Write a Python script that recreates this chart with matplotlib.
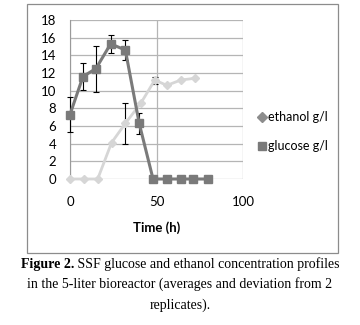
import matplotlib
matplotlib.use("Agg")
import matplotlib.pyplot as plt
from matplotlib.lines import Line2D
from matplotlib.patches import Rectangle

# data
glucose_t = [0, 7.5, 15, 23.5, 32, 40, 48, 56, 64, 71, 80]
glucose = [7.3, 11.6, 12.5, 15.3, 14.6, 6.3, 0, 0, 0, 0, 0]
glucose_err = [2.0, 1.5, 2.6, 1.0, 1.1, 1.2, 0, 0, 0, 0, 0]

ethanol_t = [0, 8, 16, 24, 32, 41, 49, 56, 64, 72]
ethanol = [0, 0, 0, 4.1, 6.3, 8.6, 11.2, 10.6, 11.2, 11.4]
ethanol_err = [0, 0, 0, 0, 2.3, 0, 0.4, 0, 0, 0]

yticks = list(range(0, 19, 2))
xticks = [0, 50, 100]

caption_bold = "Figure 2."
caption_rest = " SSF glucose and ethanol concentration profiles"
caption_2 = "in the 5-liter bioreactor (averages and deviation from 2"
caption_3 = "replicates)."

c_gluc = "#7a7a7a"
c_eth = "#d6d6d6"

plt.rcParams["font.family"] = ["Lato", "DejaVu Sans"]

fig = plt.figure(figsize=(3.6, 3.25), dpi=100)
fig.patches.append(Rectangle((27 / 360, 1 - 253 / 325), 311 / 360, 249 / 325,
                             transform=fig.transFigure, fill=False,
                             edgecolor="#8c8c8c", linewidth=0.9))

ax = fig.add_axes([70 / 360, 1 - 179 / 325, 173 / 360, 159 / 325])
ax.set_xlim(0, 100)
ax.set_ylim(0, 18)
ax.set_yticks(yticks)
ax.set_xticks(xticks)
ax.grid(True, color="#b5b5b5", linewidth=0.9)
ax.set_axisbelow(True)
for s in ["top", "right", "bottom"]:
    ax.spines[s].set_visible(False)
ax.spines["left"].set_color("#9a9a9a")
ax.tick_params(length=0, labelsize=9.5)
ax.tick_params(axis="x", pad=12)
ax.tick_params(axis="y", pad=10)

ax.errorbar(ethanol_t, ethanol, yerr=ethanol_err, color=c_eth, ecolor="black",
            elinewidth=0.8, capsize=2.5, capthick=0.8, linewidth=2,
            marker="D", markersize=4.5, clip_on=False, zorder=3)
ax.errorbar(glucose_t, glucose, yerr=glucose_err, color=c_gluc, ecolor="black",
            elinewidth=0.8, capsize=2.5, capthick=0.8, linewidth=2.2,
            marker="s", markersize=5.5, clip_on=False, zorder=4)

ax.set_xlabel("Time (h)", fontsize=9.5, fontweight="bold", labelpad=10)

handles = [Line2D([], [], linestyle="none", marker="D", markersize=5, color="#8c8c8c"),
           Line2D([], [], linestyle="none", marker="s", markersize=6, color=c_gluc)]
fig.legend(handles, ["ethanol g/l", "glucose g/l"], loc="upper left",
           bbox_to_anchor=(246 / 360, 1 - 100 / 325), frameon=False,
           fontsize=9, handletextpad=0.1, handlelength=0.8, labelspacing=1.35)

# caption
serif = "Liberation Serif"
fig.canvas.draw()
r = fig.canvas.get_renderer()
tb = fig.text(0, 0, caption_bold, fontsize=10, family=serif, fontweight="bold")
tr = fig.text(0, 0, caption_rest, fontsize=10, family=serif)
wb = tb.get_window_extent(r).width
wr = tr.get_window_extent(r).width
x0 = (360 - wb - wr) / 2 / 360
y1 = 1 - 268 / 325
tb.set_position((x0, y1))
tr.set_position((x0 + wb / 360, y1))
fig.text(0.5, 1 - 288 / 325, caption_2, fontsize=10, family=serif, ha="center")
fig.text(0.5, 1 - 309 / 325, caption_3, fontsize=10, family=serif, ha="center")

fig.savefig("out.png", dpi=100)
